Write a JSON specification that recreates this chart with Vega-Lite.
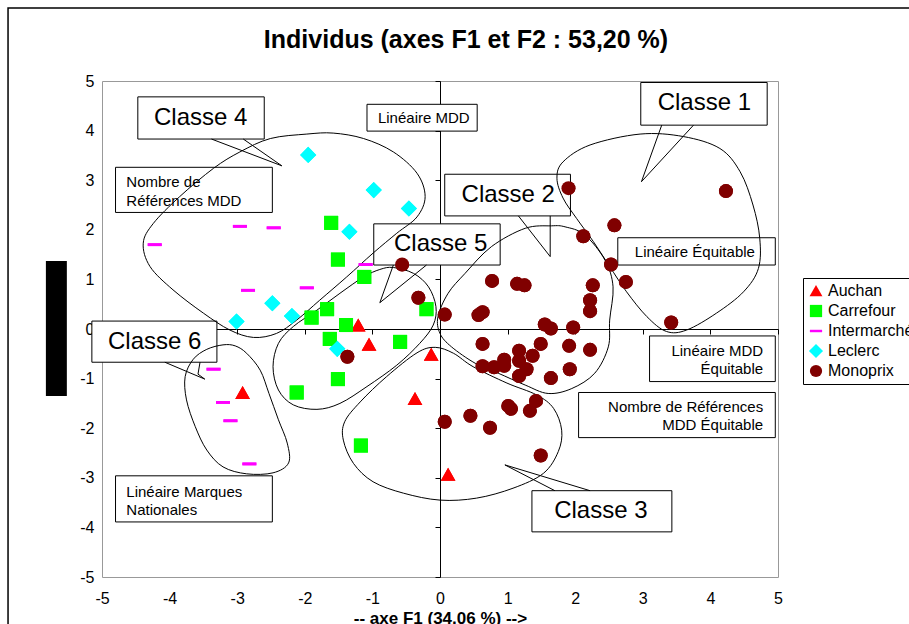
{
  "$schema": "https://vega.github.io/schema/vega-lite/v6.json",
  "width": 676,
  "height": 496,
  "autosize": {"type": "none"},
  "padding": {"left": 102, "top": 81, "right": 131, "bottom": 47},
  "background": "white",
  "config": {"view": {"stroke": "#999999", "strokeWidth": 1}},
  "title": {"text": "Individus (axes F1 et F2 : 53,20 %)", "font": "Liberation Sans", "fontSize": 25, "fontWeight": "bold", "anchor": "middle", "frame": "group", "dx": 26, "offset": 0, "dy": 66, "baseline": "alphabetic", "color": "black"},
  "datasets": {
    "frame": [{"x": -6.39, "x2": 7.5, "y": 6.47, "y2": -6.6}],
    "blk": [{"x": -5.83, "x2": -5.52, "y": 1.37, "y2": -1.35}],
    "boxes": [
      {"id": "Classe 4", "x": -4.47, "x2": -2.60, "y": 4.68, "y2": 3.83},
      {"id": "Linéaire MDD", "x": -1.08, "x2": 0.55, "y": 4.53, "y2": 3.99},
      {"id": "Classe 1", "x": 2.97, "x2": 4.84, "y": 4.97, "y2": 4.11},
      {"id": "Nombre de Références MDD", "x": -4.80, "x2": -2.48, "y": 3.26, "y2": 2.35},
      {"id": "Classe 2", "x": 0.07, "x2": 1.93, "y": 3.12, "y2": 2.28},
      {"id": "Linéaire Équitable", "x": 2.63, "x2": 4.96, "y": 1.84, "y2": 1.29},
      {"id": "Classe 5", "x": -0.98, "x2": 0.89, "y": 2.12, "y2": 1.29},
      {"id": "Classe 6", "x": -5.15, "x2": -3.30, "y": 0.16, "y2": -0.67},
      {"id": "Linéaire MDD Équitable", "x": 3.10, "x2": 4.96, "y": -0.14, "y2": -1.06},
      {"id": "Nombre de Références MDD Équitable", "x": 2.05, "x2": 4.96, "y": -1.28, "y2": -2.19},
      {"id": "Linéaire Marques Nationales", "x": -4.80, "x2": -2.48, "y": -2.96, "y2": -3.89},
      {"id": "Classe 3", "x": 1.36, "x2": 3.43, "y": -3.26, "y2": -4.09}
    ],
    "big": [
      {"t": "Classe 4", "x": -3.54, "y": 4.25},
      {"t": "Classe 1", "x": 3.91, "y": 4.55},
      {"t": "Classe 2", "x": 1.01, "y": 2.70},
      {"t": "Classe 5", "x": 0.01, "y": 1.72},
      {"t": "Classe 6", "x": -4.22, "y": -0.26},
      {"t": "Classe 3", "x": 2.38, "y": -3.67}
    ],
    "notesC": [
      {"t": "Linéaire MDD", "x": -0.24, "y": 4.25},
      {"t": "Linéaire Équitable", "x": 3.77, "y": 1.56}
    ],
    "notesL": [
      {"t": "Nombre de", "x": -4.64, "y": 2.96},
      {"t": "Références MDD", "x": -4.64, "y": 2.58},
      {"t": "Linéaire Marques", "x": -4.64, "y": -3.29},
      {"t": "Nationales", "x": -4.64, "y": -3.65}
    ],
    "notesR": [
      {"t": "Linéaire MDD", "x": 4.78, "y": -0.44},
      {"t": "Équitable", "x": 4.78, "y": -0.81},
      {"t": "Nombre de Références", "x": 4.78, "y": -1.58},
      {"t": "MDD Équitable", "x": 4.78, "y": -1.94}
    ],
    "curves": [
      {"g": 1, "i": 0, "x": 2.96, "y": 3.93}, {"g": 1, "i": 1, "x": 2.22, "y": 3.71}, {"g": 1, "i": 2, "x": 1.82, "y": 3.37}, {"g": 1, "i": 3, "x": 1.73, "y": 3.04}, {"g": 1, "i": 4, "x": 1.82, "y": 2.64}, {"g": 1, "i": 5, "x": 2.02, "y": 2.23}, {"g": 1, "i": 6, "x": 2.27, "y": 1.76}, {"g": 1, "i": 7, "x": 2.51, "y": 1.26}, {"g": 1, "i": 8, "x": 2.76, "y": 0.75}, {"g": 1, "i": 9, "x": 3.06, "y": 0.25}, {"g": 1, "i": 10, "x": 3.35, "y": -0.05}, {"g": 1, "i": 11, "x": 3.65, "y": -0.02}, {"g": 1, "i": 12, "x": 4.09, "y": 0.32}, {"g": 1, "i": 13, "x": 4.49, "y": 0.75}, {"g": 1, "i": 14, "x": 4.71, "y": 1.22}, {"g": 1, "i": 15, "x": 4.73, "y": 1.83}, {"g": 1, "i": 16, "x": 4.63, "y": 2.50}, {"g": 1, "i": 17, "x": 4.44, "y": 3.17}, {"g": 1, "i": 18, "x": 4.14, "y": 3.64}, {"g": 1, "i": 19, "x": 3.60, "y": 3.88},
      {"g": 2, "i": 0, "x": 1.65, "y": 2.08}, {"g": 2, "i": 1, "x": 1.26, "y": 2.03}, {"g": 2, "i": 2, "x": 0.76, "y": 1.66}, {"g": 2, "i": 3, "x": 0.37, "y": 1.12}, {"g": 2, "i": 4, "x": 0.12, "y": 0.72}, {"g": 2, "i": 5, "x": -0.03, "y": 0.25}, {"g": 2, "i": 6, "x": 0.00, "y": -0.09}, {"g": 2, "i": 7, "x": 0.17, "y": -0.36}, {"g": 2, "i": 8, "x": 0.52, "y": -0.69}, {"g": 2, "i": 9, "x": 0.86, "y": -0.89}, {"g": 2, "i": 10, "x": 1.26, "y": -1.13}, {"g": 2, "i": 11, "x": 1.60, "y": -1.30}, {"g": 2, "i": 12, "x": 1.95, "y": -1.20}, {"g": 2, "i": 13, "x": 2.29, "y": -0.89}, {"g": 2, "i": 14, "x": 2.49, "y": -0.36}, {"g": 2, "i": 15, "x": 2.51, "y": 0.18}, {"g": 2, "i": 16, "x": 2.56, "y": 0.85}, {"g": 2, "i": 17, "x": 2.44, "y": 1.39}, {"g": 2, "i": 18, "x": 2.14, "y": 1.90}, {"g": 2, "i": 19, "x": 1.85, "y": 2.06},
      {"g": 3, "i": 0, "x": -0.07, "y": -0.37}, {"g": 3, "i": 1, "x": -0.34, "y": -0.48}, {"g": 3, "i": 2, "x": -0.79, "y": -0.96}, {"g": 3, "i": 3, "x": -1.18, "y": -1.47}, {"g": 3, "i": 4, "x": -1.41, "y": -1.87}, {"g": 3, "i": 5, "x": -1.43, "y": -2.24}, {"g": 3, "i": 6, "x": -1.28, "y": -2.71}, {"g": 3, "i": 7, "x": -0.99, "y": -3.08}, {"g": 3, "i": 8, "x": -0.54, "y": -3.31}, {"g": 3, "i": 9, "x": 0.00, "y": -3.45}, {"g": 3, "i": 10, "x": 0.54, "y": -3.41}, {"g": 3, "i": 11, "x": 1.08, "y": -3.21}, {"g": 3, "i": 12, "x": 1.53, "y": -2.91}, {"g": 3, "i": 13, "x": 1.75, "y": -2.47}, {"g": 3, "i": 14, "x": 1.80, "y": -2.04}, {"g": 3, "i": 15, "x": 1.68, "y": -1.60}, {"g": 3, "i": 16, "x": 1.43, "y": -1.33}, {"g": 3, "i": 17, "x": 0.99, "y": -1.09}, {"g": 3, "i": 18, "x": 0.49, "y": -0.76}, {"g": 3, "i": 19, "x": 0.20, "y": -0.49},
      {"g": 4, "i": 0, "x": -1.97, "y": 3.93}, {"g": 4, "i": 1, "x": -2.51, "y": 3.84}, {"g": 4, "i": 2, "x": -2.96, "y": 3.57}, {"g": 4, "i": 3, "x": -3.35, "y": 3.24}, {"g": 4, "i": 4, "x": -3.85, "y": 2.67}, {"g": 4, "i": 5, "x": -4.24, "y": 2.13}, {"g": 4, "i": 6, "x": -4.39, "y": 1.73}, {"g": 4, "i": 7, "x": -4.29, "y": 1.26}, {"g": 4, "i": 8, "x": -3.95, "y": 0.79}, {"g": 4, "i": 9, "x": -3.50, "y": 0.32}, {"g": 4, "i": 10, "x": -3.11, "y": -0.02}, {"g": 4, "i": 11, "x": -2.76, "y": -0.17}, {"g": 4, "i": 12, "x": -2.42, "y": -0.09}, {"g": 4, "i": 13, "x": -2.12, "y": 0.18}, {"g": 4, "i": 14, "x": -1.78, "y": 0.58}, {"g": 4, "i": 15, "x": -1.38, "y": 1.05}, {"g": 4, "i": 16, "x": -0.99, "y": 1.53}, {"g": 4, "i": 17, "x": -0.64, "y": 1.93}, {"g": 4, "i": 18, "x": -0.34, "y": 2.26}, {"g": 4, "i": 19, "x": -0.22, "y": 2.67}, {"g": 4, "i": 20, "x": -0.34, "y": 3.14}, {"g": 4, "i": 21, "x": -0.69, "y": 3.57}, {"g": 4, "i": 22, "x": -1.13, "y": 3.84}, {"g": 4, "i": 23, "x": -1.58, "y": 3.95},
      {"g": 5, "i": 0, "x": -0.69, "y": 1.24}, {"g": 5, "i": 1, "x": -0.39, "y": 1.12}, {"g": 5, "i": 2, "x": -0.17, "y": 0.85}, {"g": 5, "i": 3, "x": -0.06, "y": 0.45}, {"g": 5, "i": 4, "x": -0.10, "y": 0.08}, {"g": 5, "i": 5, "x": -0.30, "y": -0.29}, {"g": 5, "i": 6, "x": -0.64, "y": -0.73}, {"g": 5, "i": 7, "x": -1.08, "y": -1.16}, {"g": 5, "i": 8, "x": -1.48, "y": -1.50}, {"g": 5, "i": 9, "x": -1.82, "y": -1.62}, {"g": 5, "i": 10, "x": -2.17, "y": -1.53}, {"g": 5, "i": 11, "x": -2.39, "y": -1.23}, {"g": 5, "i": 12, "x": -2.47, "y": -0.76}, {"g": 5, "i": 13, "x": -2.39, "y": -0.29}, {"g": 5, "i": 14, "x": -2.17, "y": 0.05}, {"g": 5, "i": 15, "x": -1.82, "y": 0.38}, {"g": 5, "i": 16, "x": -1.48, "y": 0.72}, {"g": 5, "i": 17, "x": -1.13, "y": 1.05}, {"g": 5, "i": 18, "x": -0.89, "y": 1.20},
      {"g": 6, "i": 0, "x": -3.21, "y": -0.32}, {"g": 6, "i": 1, "x": -3.45, "y": -0.41}, {"g": 6, "i": 2, "x": -3.65, "y": -0.61}, {"g": 6, "i": 3, "x": -3.77, "y": -0.96}, {"g": 6, "i": 4, "x": -3.75, "y": -1.43}, {"g": 6, "i": 5, "x": -3.62, "y": -1.97}, {"g": 6, "i": 6, "x": -3.45, "y": -2.44}, {"g": 6, "i": 7, "x": -3.21, "y": -2.78}, {"g": 6, "i": 8, "x": -2.86, "y": -2.92}, {"g": 6, "i": 9, "x": -2.47, "y": -2.90}, {"g": 6, "i": 10, "x": -2.24, "y": -2.70}, {"g": 6, "i": 11, "x": -2.26, "y": -2.30}, {"g": 6, "i": 12, "x": -2.39, "y": -1.83}, {"g": 6, "i": 13, "x": -2.53, "y": -1.30}, {"g": 6, "i": 14, "x": -2.66, "y": -0.83}, {"g": 6, "i": 15, "x": -2.86, "y": -0.49}, {"g": 6, "i": 16, "x": -3.03, "y": -0.34}
    ],
    "ptr": [
      {"g": 1, "i": 0, "x": 3.28, "y": 4.11}, {"g": 1, "i": 1, "x": 2.98, "y": 2.97}, {"g": 1, "i": 2, "x": 3.75, "y": 4.11},
      {"g": 2, "i": 0, "x": 1.16, "y": 2.28}, {"g": 2, "i": 1, "x": 1.63, "y": 1.46}, {"g": 2, "i": 2, "x": 1.63, "y": 2.28},
      {"g": 3, "i": 0, "x": 1.70, "y": -3.26}, {"g": 3, "i": 1, "x": 0.96, "y": -2.74}, {"g": 3, "i": 2, "x": 2.22, "y": -3.26},
      {"g": 4, "i": 0, "x": -3.38, "y": 3.83}, {"g": 4, "i": 1, "x": -2.34, "y": 3.29}, {"g": 4, "i": 2, "x": -2.91, "y": 3.83},
      {"g": 5, "i": 0, "x": -0.69, "y": 1.29}, {"g": 5, "i": 1, "x": -0.89, "y": 0.53}, {"g": 5, "i": 2, "x": -0.20, "y": 1.29},
      {"g": 6, "i": 0, "x": -4.07, "y": -0.67}, {"g": 6, "i": 1, "x": -3.48, "y": -1.01}, {"g": 6, "i": 2, "x": -3.58, "y": -0.91}, {"g": 6, "i": 3, "x": -3.55, "y": -0.67}
    ],
    "pts": [
      {"s": "Auchan", "x": -1.21, "y": 0.07}, {"s": "Auchan", "x": -1.05, "y": -0.32}, {"s": "Auchan", "x": -0.13, "y": -0.52}, {"s": "Auchan", "x": -2.92, "y": -1.29}, {"s": "Auchan", "x": -0.37, "y": -1.41}, {"s": "Auchan", "x": 0.12, "y": -2.94},
      {"s": "Carrefour", "x": -1.61, "y": 2.14}, {"s": "Carrefour", "x": -1.51, "y": 1.40}, {"s": "Carrefour", "x": -1.12, "y": 1.05}, {"s": "Carrefour", "x": -0.20, "y": 0.40}, {"s": "Carrefour", "x": -1.67, "y": 0.40}, {"s": "Carrefour", "x": -1.90, "y": 0.23}, {"s": "Carrefour", "x": -1.39, "y": 0.08}, {"s": "Carrefour", "x": -1.63, "y": -0.20}, {"s": "Carrefour", "x": -0.59, "y": -0.26}, {"s": "Carrefour", "x": -1.51, "y": -1.01}, {"s": "Carrefour", "x": -2.12, "y": -1.28}, {"s": "Carrefour", "x": -1.17, "y": -2.35},
      {"s": "Intermarché", "x": -4.22, "y": 1.70}, {"s": "Intermarché", "x": -2.96, "y": 2.07}, {"s": "Intermarché", "x": -2.46, "y": 2.04}, {"s": "Intermarché", "x": -2.84, "y": 0.78}, {"s": "Intermarché", "x": -1.97, "y": 0.83}, {"s": "Intermarché", "x": -1.10, "y": 1.30}, {"s": "Intermarché", "x": -3.35, "y": -0.81}, {"s": "Intermarché", "x": -3.21, "y": -1.48}, {"s": "Intermarché", "x": -3.10, "y": -1.85}, {"s": "Intermarché", "x": -2.82, "y": -2.72},
      {"s": "Leclerc", "x": -1.95, "y": 3.51}, {"s": "Leclerc", "x": -0.98, "y": 2.80}, {"s": "Leclerc", "x": -0.46, "y": 2.43}, {"s": "Leclerc", "x": -1.34, "y": 1.96}, {"s": "Leclerc", "x": -2.48, "y": 0.52}, {"s": "Leclerc", "x": -2.19, "y": 0.26}, {"s": "Leclerc", "x": -3.01, "y": 0.15}, {"s": "Leclerc", "x": -1.52, "y": -0.40},
      {"s": "Monoprix", "x": 1.90, "y": 2.84}, {"s": "Monoprix", "x": 4.23, "y": 2.78}, {"s": "Monoprix", "x": 2.58, "y": 2.09}, {"s": "Monoprix", "x": 2.12, "y": 1.87}, {"s": "Monoprix", "x": 2.53, "y": 1.30}, {"s": "Monoprix", "x": 2.75, "y": 0.95}, {"s": "Monoprix", "x": 2.26, "y": 0.88}, {"s": "Monoprix", "x": 2.22, "y": 0.58}, {"s": "Monoprix", "x": 2.22, "y": 0.36}, {"s": "Monoprix", "x": 0.77, "y": 0.97}, {"s": "Monoprix", "x": 1.14, "y": 0.91}, {"s": "Monoprix", "x": 1.25, "y": 0.88}, {"s": "Monoprix", "x": 0.07, "y": 0.29}, {"s": "Monoprix", "x": 0.57, "y": 0.28}, {"s": "Monoprix", "x": 0.63, "y": 0.34}, {"s": "Monoprix", "x": 1.55, "y": 0.09}, {"s": "Monoprix", "x": 1.64, "y": 0.01}, {"s": "Monoprix", "x": 1.97, "y": 0.03}, {"s": "Monoprix", "x": 3.42, "y": 0.13}, {"s": "Monoprix", "x": -0.56, "y": 1.30}, {"s": "Monoprix", "x": -0.32, "y": 0.63}, {"s": "Monoprix", "x": -1.37, "y": -0.56}, {"s": "Monoprix", "x": 0.63, "y": -0.30}, {"s": "Monoprix", "x": 1.17, "y": -0.44}, {"s": "Monoprix", "x": 1.49, "y": -0.30}, {"s": "Monoprix", "x": 1.91, "y": -0.34}, {"s": "Monoprix", "x": 2.22, "y": -0.42}, {"s": "Monoprix", "x": 1.37, "y": -0.54}, {"s": "Monoprix", "x": 1.17, "y": -0.64}, {"s": "Monoprix", "x": 0.95, "y": -0.62}, {"s": "Monoprix", "x": 0.95, "y": -0.74}, {"s": "Monoprix", "x": 0.80, "y": -0.77}, {"s": "Monoprix", "x": 0.63, "y": -0.75}, {"s": "Monoprix", "x": 1.28, "y": -0.81}, {"s": "Monoprix", "x": 1.17, "y": -0.95}, {"s": "Monoprix", "x": 1.64, "y": -0.99}, {"s": "Monoprix", "x": 1.92, "y": -0.81}, {"s": "Monoprix", "x": 1.42, "y": -1.45}, {"s": "Monoprix", "x": 1.01, "y": -1.55}, {"s": "Monoprix", "x": 1.05, "y": -1.61}, {"s": "Monoprix", "x": 1.33, "y": -1.65}, {"s": "Monoprix", "x": 0.45, "y": -1.75}, {"s": "Monoprix", "x": 0.07, "y": -1.87}, {"s": "Monoprix", "x": 0.74, "y": -1.99}, {"s": "Monoprix", "x": 1.49, "y": -2.55}
    ]
  },
  "layer": [
    {
      "data": {"name": "pts"},
      "mark": {"type": "point", "filled": true, "size": 196, "opacity": 1, "strokeWidth": 0},
      "encoding": {
        "x": {"field": "x", "type": "quantitative", "title": "-- axe F1 (34,06 %) -->", "scale": {"domain": [-5, 5], "nice": false, "zero": false},
          "axis": {"values": [-5, -4, -3, -2, -1, 0, 1, 2, 3, 4, 5], "labelExpr": "'' + datum.value", "offset": -248, "grid": false, "domainColor": "black", "tickColor": "black", "tickSize": 5, "labelPadding": 256, "labelFont": "Liberation Sans", "labelFontSize": 16, "labelColor": "black", "labelFlush": false, "labelOverlap": false, "titleFont": "Liberation Sans", "titleFontSize": 17, "titleFontWeight": "bold", "titleColor": "black", "titleY": 281, "titleBaseline": "top"}},
        "y": {"field": "y", "type": "quantitative", "title": null, "scale": {"domain": [-5, 5], "nice": false, "zero": false},
          "axis": {"values": [-5, -4, -3, -2, -1, 0, 1, 2, 3, 4, 5], "labelExpr": "'' + datum.value", "offset": -338, "grid": false, "domainColor": "black", "tickColor": "black", "tickSize": 5, "labelPadding": 341, "labelFont": "Liberation Sans", "labelFontSize": 16, "labelColor": "black", "labelFlush": false, "labelOverlap": false}},
        "color": {"field": "s", "type": "nominal", "scale": {"domain": ["Auchan", "Carrefour", "Intermarché", "Leclerc", "Monoprix"], "range": ["#ff0000", "#00ff00", "#ff00ff", "#00ffff", "#800000"]},
          "legend": {"title": null, "orient": "none", "legendX": 701, "legendY": 197, "strokeColor": "black", "fillColor": "white", "padding": 5, "labelFont": "Liberation Sans", "labelFontSize": 16, "labelColor": "black", "symbolSize": 150, "symbolStrokeWidth": 0, "rowPadding": 4, "labelOffset": 4}},
        "shape": {"field": "s", "type": "nominal", "scale": {"domain": ["Auchan", "Carrefour", "Intermarché", "Leclerc", "Monoprix"], "range": ["M 0 -1 L 1.05 0.85 L -1.05 0.85 Z", "square", "M -1 -0.2 L 1 -0.2 L 1 0.2 L -1 0.2 Z", "M -1.15 0 L 0 -1.15 L 1.15 0 L 0 1.15 Z", "circle"]},
          "legend": {"title": null, "orient": "none", "legendX": 701, "legendY": 197, "strokeColor": "black", "fillColor": "white", "padding": 5, "labelFont": "Liberation Sans", "labelFontSize": 16, "labelColor": "black", "symbolSize": 150, "symbolStrokeWidth": 0, "rowPadding": 4, "labelOffset": 4}}
      }
    },
    {
      "data": {"name": "frame"},
      "mark": {"type": "rect", "filled": false, "stroke": "black", "strokeWidth": 1.5},
      "encoding": {"x": {"field": "x", "type": "quantitative"}, "x2": {"field": "x2"}, "y": {"field": "y", "type": "quantitative"}, "y2": {"field": "y2"}}
    },
    {
      "data": {"name": "blk"},
      "mark": {"type": "rect", "fill": "black"},
      "encoding": {"x": {"field": "x", "type": "quantitative"}, "x2": {"field": "x2"}, "y": {"field": "y", "type": "quantitative"}, "y2": {"field": "y2"}}
    },
    {
      "data": {"name": "boxes"},
      "mark": {"type": "rect", "fill": "white", "stroke": "black", "strokeWidth": 1},
      "encoding": {"x": {"field": "x", "type": "quantitative"}, "x2": {"field": "x2"}, "y": {"field": "y", "type": "quantitative"}, "y2": {"field": "y2"}}
    },
    {
      "data": {"name": "big"},
      "mark": {"type": "text", "font": "Liberation Sans", "fontSize": 24, "align": "center", "baseline": "middle", "color": "black"},
      "encoding": {"x": {"field": "x", "type": "quantitative"}, "y": {"field": "y", "type": "quantitative"}, "text": {"field": "t"}}
    },
    {
      "data": {"name": "notesC"},
      "mark": {"type": "text", "font": "Liberation Sans", "fontSize": 15, "align": "center", "baseline": "middle", "color": "black"},
      "encoding": {"x": {"field": "x", "type": "quantitative"}, "y": {"field": "y", "type": "quantitative"}, "text": {"field": "t"}}
    },
    {
      "data": {"name": "notesL"},
      "mark": {"type": "text", "font": "Liberation Sans", "fontSize": 15, "align": "left", "baseline": "middle", "color": "black"},
      "encoding": {"x": {"field": "x", "type": "quantitative"}, "y": {"field": "y", "type": "quantitative"}, "text": {"field": "t"}}
    },
    {
      "data": {"name": "notesR"},
      "mark": {"type": "text", "font": "Liberation Sans", "fontSize": 15, "align": "right", "baseline": "middle", "color": "black"},
      "encoding": {"x": {"field": "x", "type": "quantitative"}, "y": {"field": "y", "type": "quantitative"}, "text": {"field": "t"}}
    },
    {
      "data": {"name": "curves"},
      "mark": {"type": "line", "interpolate": "cardinal-closed", "color": "black", "strokeWidth": 1},
      "encoding": {"x": {"field": "x", "type": "quantitative"}, "y": {"field": "y", "type": "quantitative"}, "detail": {"field": "g"}, "order": {"field": "i"}}
    },
    {
      "data": {"name": "ptr"},
      "mark": {"type": "line", "interpolate": "linear", "color": "black", "strokeWidth": 1},
      "encoding": {"x": {"field": "x", "type": "quantitative"}, "y": {"field": "y", "type": "quantitative"}, "detail": {"field": "g"}, "order": {"field": "i"}}
    },
    {
      "data": {"name": "pts"},
      "mark": {"type": "point", "filled": true, "size": 196, "opacity": 1, "strokeWidth": 0},
      "encoding": {
        "x": {"field": "x", "type": "quantitative"},
        "y": {"field": "y", "type": "quantitative"},
        "color": {"field": "s", "type": "nominal"},
        "shape": {"field": "s", "type": "nominal"}
      }
    }
  ]
}
